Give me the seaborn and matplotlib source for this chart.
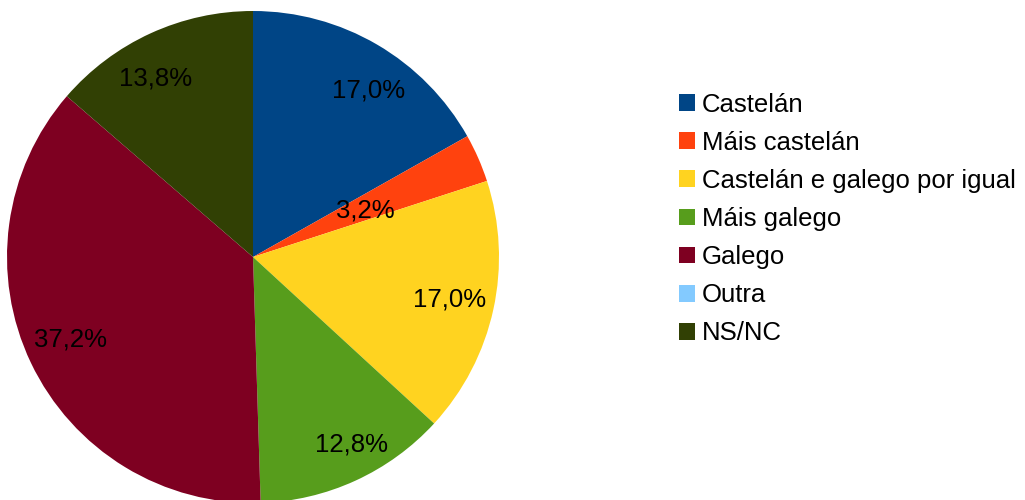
import numpy as np
import matplotlib
matplotlib.use("Agg")
import matplotlib.pyplot as plt
import seaborn as sns
from matplotlib.patches import Patch

categories = ["Castelán", "Máis castelán", "Castelán e galego por igual",
              "Máis galego", "Galego", "Outra", "NS/NC"]
shares = [17.0, 3.2, 17.0, 12.8, 37.2, 0.0, 13.8]
colors = ["#004586", "#ff420e", "#ffd320", "#579d1c", "#7e0021", "#83caff", "#314004"]

sns.set_theme(style="white")
plt.rcParams["font.family"] = ["Liberation Sans", "DejaVu Sans"]
plt.rcParams["text.color"] = "black"

palette = sns.color_palette(colors)

W, H = 1025, 500
fig = plt.figure(figsize=(W / 100, H / 100), dpi=100)
cx, cy, r = 253, 243, 246
ax = fig.add_axes([(cx - r) / W, (cy - r) / H, 2 * r / W, 2 * r / H])

wedges, _ = ax.pie(shares, colors=palette, startangle=90, counterclock=False,
                   radius=1.0, wedgeprops=dict(linewidth=0))
ax.set_xlim(-1, 1)
ax.set_ylim(-1, 1)
ax.set_aspect("equal")
ax.axis("off")

# fine nudges (pixels, right/down) for the value labels of the drawn slices
nudges = [(13, 10), (0, 3), (-3, -1), (14, 2), (2, -5), None, (-12, 7)]

fs = 18.5
for w, v, nd in zip(wedges, shares, nudges):
    if v <= 0:
        continue
    mid = np.deg2rad((w.theta1 + w.theta2) / 2)
    dist = 0.5 if v < 5 else 0.83
    ax.annotate(f"{v:.1f}%".replace(".", ","),
                xy=(dist * np.cos(mid), dist * np.sin(mid)),
                xytext=(nd[0] * 0.72, -nd[1] * 0.72), textcoords="offset points",
                ha="center", va="center", fontsize=fs, color="black")

handles = [Patch(facecolor=c, edgecolor="none") for c in palette]
leg = fig.legend(handles, categories, loc="center left",
                 bbox_to_anchor=(679 / W, 1 - 219 / H), frameon=False, fontsize=fs,
                 handlelength=0.62, handleheight=0.62, handletextpad=0.27,
                 labelspacing=0.55, borderaxespad=0, borderpad=0)
for t in leg.get_texts():
    t.set_color("black")

fig.savefig("out.png", dpi=100, facecolor="white")
